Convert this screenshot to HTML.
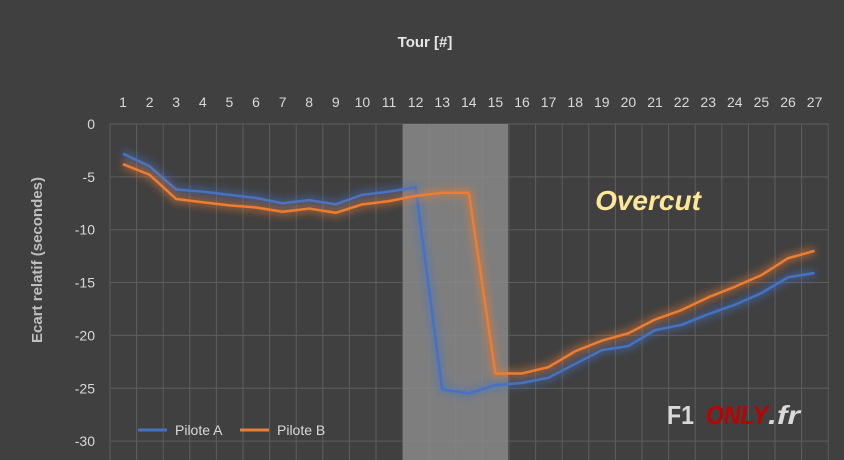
<!DOCTYPE html>
<html><head><meta charset="utf-8"><style>
html,body{margin:0;padding:0;background:#404040;}
svg{display:block;font-family:"Liberation Sans",sans-serif;}
</style></head><body>
<svg width="844" height="460" viewBox="0 0 844 460" xmlns="http://www.w3.org/2000/svg">
<defs><filter id="g" x="-10%" y="-10%" width="120%" height="120%"><feGaussianBlur stdDeviation="4"/></filter></defs>
<rect width="844" height="460" fill="#404040"/>
<text x="425" y="47" fill="#e6e6e6" font-size="15" font-weight="bold" text-anchor="middle">Tour [#]</text>
<g id="grid" stroke="#5e5e5e" stroke-width="1"></g>
<rect x="403" y="124" width="105" height="336" fill="#8a8a8a" opacity="0.85"/>
<g id="xl" fill="#d9d9d9" font-size="14" text-anchor="middle"></g>
<g id="yl" fill="#d9d9d9" font-size="14" text-anchor="end"></g>
<text transform="translate(42,260) rotate(-90)" fill="#bfbfbf" font-size="15" font-weight="bold" text-anchor="middle">Ecart  relatif (secondes)</text>
<g id="lines"></g>
<text x="648" y="210" fill="#ffe699" font-size="28" font-weight="bold" font-style="italic" text-anchor="middle">Overcut</text>
<line x1="138" y1="430" x2="167" y2="430" stroke="#4472c4" stroke-width="3"/>
<text x="175" y="435" fill="#d9d9d9" font-size="14">Pilote A</text>
<line x1="240" y1="430" x2="269" y2="430" stroke="#ed7d31" stroke-width="3"/>
<text x="277" y="435" fill="#d9d9d9" font-size="14">Pilote B</text>
<text x="667" y="424" fill="#d9d9d9" font-size="26" font-weight="bold" textLength="27" lengthAdjust="spacingAndGlyphs">F1</text>
<text x="706" y="424" fill="#c00000" font-size="26" font-weight="bold" font-style="italic" textLength="62" lengthAdjust="spacingAndGlyphs">ONLY</text>
<text x="768" y="424" fill="#d9d9d9" font-size="26" font-weight="bold" font-style="italic" textLength="32" lengthAdjust="spacingAndGlyphs">.fr</text>
</svg>
<script>
const ns="http://www.w3.org/2000/svg";
function el(t,a,p,txt){const e=document.createElementNS(ns,t);for(const k in a)e.setAttribute(k,a[k]);if(txt!==undefined)e.textContent=txt;document.getElementById(p).appendChild(e);return e;}
const X=i=>123+(i-1)*26.6, Y=v=>124-v*10.57;
for(let i=0;i<=27;i++){const x=110+i*26.6;el('line',{x1:x,y1:124,x2:x,y2:460},'grid');}
for(let v=0;v>=-30;v-=5){el('line',{x1:110,y1:Y(v),x2:828,y2:Y(v)},'grid');el('text',{x:95,y:Y(v)+5},'yl',String(v));}
for(let i=1;i<=27;i++)el('text',{x:X(i),y:107},'xl',String(i));
const A=[-2.8,-4,-6.2,-6.4,-6.7,-7,-7.5,-7.2,-7.6,-6.7,-6.4,-6,-25.1,-25.5,-24.7,-24.5,-24,-22.7,-21.4,-21,-19.5,-19,-18,-17.1,-16,-14.5,-14.1];
const B=[-3.8,-4.8,-7.1,-7.4,-7.7,-7.9,-8.3,-8.0,-8.4,-7.6,-7.3,-6.8,-6.5,-6.5,-23.6,-23.6,-23,-21.5,-20.5,-19.8,-18.5,-17.6,-16.4,-15.4,-14.3,-12.7,-12];
function pts(d){return d.map((v,i)=>X(i+1)+','+Y(v)).join(' ');}
[[A,'#4472c4'],[B,'#ed7d31']].forEach(([d,c])=>{
el('polyline',{points:pts(d),fill:'none',stroke:c,'stroke-width':8,opacity:0.5,filter:'url(#g)'},'lines');
el('polyline',{points:pts(d),fill:'none',stroke:c,'stroke-width':2.5,'stroke-linejoin':'round'},'lines');
});
</script>
</body></html>
